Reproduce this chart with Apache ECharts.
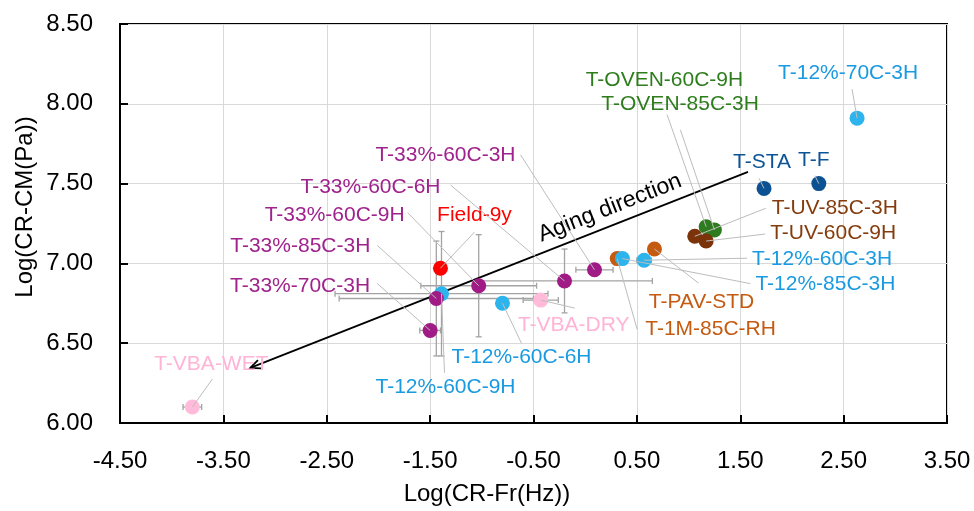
<!DOCTYPE html>
<html>
<head>
<meta charset="utf-8">
<script src="https://cdn.jsdelivr.net/npm/echarts@6/dist/echarts.min.js"></script>
<style>
  html, body { margin: 0; padding: 0; background: #fff; }
  #chart { width: 974px; height: 511px; }
</style>
</head>
<body>
<div id="chart"></div>
<script>
// Sample data: log crossover frequency vs log crossover modulus
const sampleNames = ['T-VBA-WET', 'T-33%-70C-3H', 'T-12%-60C-9H', 'T-33%-85C-3H', 'Field-9y',
  'T-33%-60C-9H', 'T-12%-60C-6H', 'T-VBA-DRY', 'T-33%-60C-6H', 'T-33%-60C-3H',
  'T-1M-85C-RH', 'T-12%-85C-3H', 'T-12%-60C-3H', 'T-PAV-STD', 'T-OVEN-85C-3H',
  'T-OVEN-60C-9H', 'T-UV-85C-3H', 'T-UV-60C-9H', 'T-STA', 'T-F', 'T-12%-70C-3H'];
const logFreq = [-3.80, -1.50, -1.39, -1.44, -1.40, -1.03, -0.80, -0.43, -0.20, 0.09,
  0.31, 0.36, 0.57, 0.67, 1.17, 1.25, 1.06, 1.17, 1.73, 2.26, 2.63];
const logModulus = [6.10, 6.58, 6.81, 6.78, 6.97, 6.86, 6.75, 6.77, 6.89, 6.96,
  7.03, 7.03, 7.02, 7.09, 7.23, 7.21, 7.17, 7.14, 7.47, 7.50, 7.91];
const freqErr = [0.09, 0.10, 1.03, 0.94, 0, 0.56, 0, 0.17, 0.85, 0.18,
  0, 0, 0.07, 0, 0, 0, 0, 0, 0, 0, 0];
const modErr = [0, 0, 0.39, 0.36, 0, 0.32, 0, 0, 0.20, 0,
  0, 0, 0, 0, 0, 0, 0, 0, 0, 0, 0];
const family = ['vba', 'p33', 'p12', 'p33', 'field', 'p33', 'p12', 'vba', 'p33', 'p33',
  'pav', 'p12', 'p12', 'pav', 'oven', 'oven', 'uv', 'uv', 'fresh', 'fresh', 'p12'];

// Aging trend arrow: [from x, from y, to x, to y]
const agingArrow = [1.575, 7.573, -3.24, 6.345];
const agingText = 'Aging direction';

const xTicks = [-4.5, -3.5, -2.5, -1.5, -0.5, 0.5, 1.5, 2.5, 3.5];
const yTicks = [6.0, 6.5, 7.0, 7.5, 8.0, 8.5];

// Colours per sample family
const palette = {
  vba:   { mark: '#ffbbd9', text: '#ffb4d6' },
  p33:   { mark: '#a01b85', text: '#a0228c' },
  p12:   { mark: '#2db4ec', text: '#1a9ae0' },
  field: { mark: '#ff0000', text: '#ff0000' },
  pav:   { mark: '#c55a11', text: '#c55a11' },
  oven:  { mark: '#2e7b20', text: '#2e7d1d' },
  uv:    { mark: '#7b330a', text: '#843c0c' },
  fresh: { mark: '#0c5292', text: '#0d5496' }
};

// Label placement in pixels relative to each marker: text anchor, alignment, leader start
const labelLayout = [
  { tx: 19, ty: -43, align: 'center', lx: 20, ly: -28 },
  { tx: -60, ty: -44, align: 'right', lx: -53, ly: -47 },
  { tx: 4, ty: 93, align: 'center', lx: 3, ly: 79 },
  { tx: -66, ty: -52, align: 'right', lx: -59, ly: -53 },
  { tx: 34, ty: -53, align: 'center', lx: 34, ly: -36 },
  { tx: -74, ty: -71, align: 'right', lx: -71, ly: -73 },
  { tx: 19, ty: 54, align: 'center', lx: 19, ly: 40 },
  { tx: 33, ty: 25, align: 'center', lx: 34, ly: 8 },
  { tx: -124, ty: -94, align: 'right', lx: -114, ly: -96 },
  { tx: -79, ty: -115, align: 'right', lx: -74, ly: -115 },
  { tx: 28, ty: 71, align: 'left', lx: 20, ly: 71 },
  { tx: 133, ty: 26, align: 'left', lx: 128, ly: 25 },
  { tx: 108, ty: -1, align: 'left', lx: 103, ly: -2 },
  { tx: 47, ty: 53, align: 'center', lx: 44, ly: 34 },
  { tx: -26, ty: -122, align: 'center', lx: -39, ly: -112 },
  { tx: -50, ty: -150, align: 'center', lx: -34, ly: -100 },
  { tx: 77, ty: -28, align: 'left', lx: 71, ly: -28 },
  { tx: 64, ty: -8, align: 'left', lx: 59, ly: -7 },
  { tx: -2, ty: -26, align: 'center', lx: -5, ly: -10 },
  { tx: -5, ty: -23, align: 'center', lx: -4, ly: -8 },
  { tx: -9, ty: -45, align: 'center', lx: -5, ly: -29 }
];

const FONT = '"Liberation Sans", Arial, Helvetica, sans-serif';

const chart = echarts.init(document.getElementById('chart'), null, { renderer: 'canvas' });

const markerData = sampleNames.map((name, i) => ({
  name: name,
  value: [logFreq[i], logModulus[i]],
  itemStyle: { color: palette[family[i]].mark, opacity: 1 }
}));
const errData = sampleNames.map((_, i) => [logFreq[i], logModulus[i], freqErr[i], modErr[i]]);
const labelData = sampleNames.map((_, i) => [logFreq[i], logModulus[i], i]);

function renderErrorBar(params, api) {
  const x = api.value(0), y = api.value(1), ex = api.value(2), ey = api.value(3);
  const style = { stroke: '#a3a3a3', lineWidth: 1.3 };
  const cap = 3;
  const kids = [];
  const seg = (x1, y1, x2, y2) => kids.push({ type: 'line', shape: { x1, y1, x2, y2 }, style });
  if (ex > 0) {
    const a = api.coord([x - ex, y]), b = api.coord([x + ex, y]);
    seg(a[0], a[1], b[0], b[1]);
    seg(a[0], a[1] - cap, a[0], a[1] + cap);
    seg(b[0], b[1] - cap, b[0], b[1] + cap);
  }
  if (ey > 0) {
    const a = api.coord([x, y - ey]), b = api.coord([x, y + ey]);
    seg(a[0], a[1], b[0], b[1]);
    seg(a[0] - cap, a[1], a[0] + cap, a[1]);
    seg(b[0] - cap, b[1], b[0] + cap, b[1]);
  }
  return { type: 'group', children: kids };
}

function renderLabel(params, api) {
  const i = api.value(2);
  const p = api.coord([api.value(0), api.value(1)]);
  const L = labelLayout[i];
  return {
    type: 'group',
    children: [
      { type: 'line', shape: { x1: p[0] + L.lx, y1: p[1] + L.ly, x2: p[0], y2: p[1] },
        style: { stroke: '#bdbdbd', lineWidth: 1 } },
      { type: 'text', x: p[0] + L.tx, y: p[1] + L.ty,
        style: { text: sampleNames[i], fill: palette[family[i]].text, font: '21px ' + FONT,
                 align: L.align, verticalAlign: 'middle' } }
    ]
  };
}

function renderArrow(params, api) {
  const a = api.coord([api.value(0), api.value(1)]);
  const b = api.coord([api.value(2), api.value(3)]);
  const dx = b[0] - a[0], dy = b[1] - a[1];
  const len = Math.hypot(dx, dy);
  const ux = dx / len, uy = dy / len;
  const head = 11, spread = 0.42;
  const wing = (s) => {
    const c = Math.cos(s), sn = Math.sin(s);
    const rx = -ux * c + uy * sn, ry = -uy * c - ux * sn;
    return [b[0] + rx * head, b[1] + ry * head];
  };
  const w1 = wing(spread), w2 = wing(-spread);
  const style = { stroke: '#000', lineWidth: 1.8 };
  // text sits above the shaft, a quarter of the way down from the upper end
  const t = 0.265;
  const mx = a[0] + dx * t, my = a[1] + dy * t;
  const nx = uy, ny = -ux; // normal pointing up-left
  const off = -17;
  const rot = Math.atan2(b[1] - a[1], a[0] - b[0]);
  return {
    type: 'group',
    children: [
      { type: 'line', shape: { x1: a[0], y1: a[1], x2: b[0], y2: b[1] }, style },
      { type: 'polyline', shape: { points: [w1, b, w2] }, style: { stroke: '#000', lineWidth: 1.8, fill: null } },
      { type: 'text', x: mx + nx * off, y: my + ny * off, rotation: rot,
        style: { text: agingText, fill: '#000', font: '23px ' + FONT, align: 'center', verticalAlign: 'middle' } }
    ]
  };
}

const axisText = { color: '#000', fontSize: 24, fontFamily: FONT };

const option = {
  animation: false,
  backgroundColor: '#fff',
  grid: { left: 120, right: 27, top: 24, bottom: 88, show: true, borderColor: '#000', borderWidth: 2 },
  xAxis: {
    type: 'value', min: xTicks[0], max: xTicks[xTicks.length - 1], interval: 1,
    axisLine: { show: true, onZero: false, lineStyle: { color: '#000', width: 2 } },
    axisTick: { show: true, inside: true, length: 8, lineStyle: { color: '#000', width: 2 } },
    splitLine: { show: true, lineStyle: { color: '#d9d9d9', width: 1 } },
    axisLabel: Object.assign({ margin: 26, formatter: v => v.toFixed(2), showMinLabel: true, showMaxLabel: true }, axisText)
  },
  yAxis: {
    type: 'value', min: yTicks[0], max: yTicks[yTicks.length - 1], interval: 0.5,
    axisLine: { show: true, onZero: false, lineStyle: { color: '#000', width: 2 } },
    axisTick: { show: true, inside: true, length: 8, lineStyle: { color: '#000', width: 2 } },
    splitLine: { show: true, lineStyle: { color: '#d9d9d9', width: 1 } },
    axisLabel: Object.assign({ margin: 27, formatter: v => v.toFixed(2) }, axisText)
  },
  graphic: [
    { type: 'text', left: 'center', x: 0, top: 482, style: { text: 'Log(CR-Fr(Hz))', fill: '#000', font: '24px ' + FONT } },
    { type: 'text', x: 25, y: 207, rotation: Math.PI / 2,
      style: { text: 'Log(CR-CM(Pa))', fill: '#000', font: '24px ' + FONT, align: 'center', verticalAlign: 'middle' } }
  ],
  series: [
    { type: 'custom', name: 'error', renderItem: renderErrorBar, data: errData, encode: { x: 0, y: 1 }, z: 2, silent: true },
    { type: 'custom', name: 'trend', renderItem: renderArrow, data: [agingArrow], encode: { x: [0, 2], y: [1, 3] }, z: 3, silent: true },
    { type: 'scatter', name: 'samples', data: markerData, symbol: 'circle', symbolSize: 15, z: 4 },
    { type: 'custom', name: 'labels', renderItem: renderLabel, data: labelData, encode: { x: 0, y: 1 }, z: 5, silent: true }
  ]
};

chart.setOption(option);
</script>
</body>
</html>
